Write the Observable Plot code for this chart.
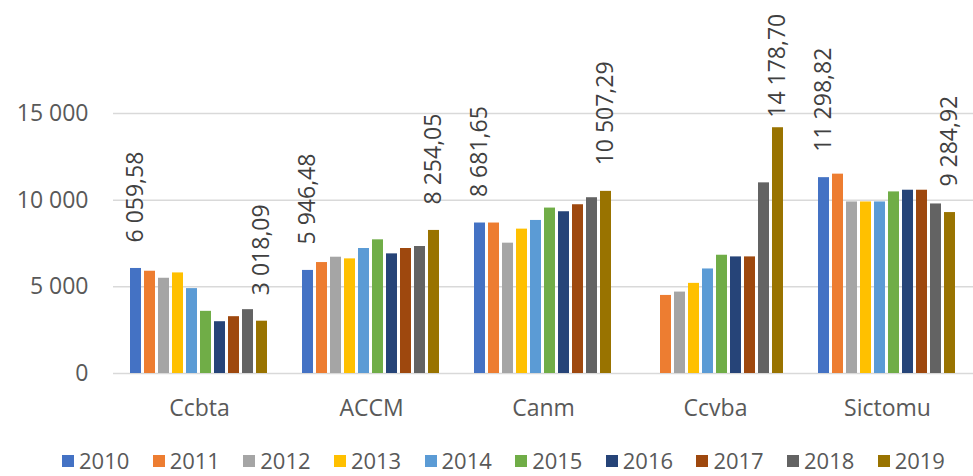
<!DOCTYPE html>
<html>
<head>
<meta charset="utf-8">
<script src="https://cdn.jsdelivr.net/npm/d3@7"></script>
<script src="https://cdn.jsdelivr.net/npm/@observablehq/plot@0.6"></script>
<style>
  html, body { margin: 0; padding: 0; background: #ffffff; overflow: hidden; }
  #chart { width: 973px; height: 445px; }
  #legend { display: flex; align-items: center; padding-left: 62px; margin-top: 5px; height: 20px;
            font-family: "Open Sans", sans-serif; font-size: 22px; line-height: 20px; color: #595959; }
  .item { display: flex; align-items: center; margin-right: 23.3px; height: 20px; }
  .sw { width: 12px; height: 12px; margin-right: 5px; margin-top: 2px; }
</style>
</head>
<body>
<div id="chart"></div>
<div id="legend"></div>
<script>
const categories = ["Ccbta", "ACCM", "Canm", "Ccvba", "Sictomu"];
const years = [2010, 2011, 2012, 2013, 2014, 2015, 2016, 2017, 2018, 2019];
const colors = ["#4472C4", "#ED7D31", "#A5A5A5", "#FFC000", "#5B9BD5", "#70AD47", "#264478", "#9E480E", "#636363", "#997300"];
const yTicks = [0, 5000, 10000, 15000];

const ccbta   = [6059.58, 5900, 5495, 5803, 4897, 3586, 2988, 3278, 3683, 3018.09];
const accm    = [5946.48, 6401, 6709, 6613, 7211, 7712, 6902, 7211, 7326, 8254.05];
const canm    = [8681.65, 8681, 7519, 8329, 8830, 9544, 9332, 9736, 10141, 10507.29];
const ccvba   = [null, 4504, 4697, 5200, 6031, 6823, 6727, 6727, 10999, 14178.70];
const sictomu = [11298.82, 11501, 9897, 9897, 9897, 10477, 10574, 10574, 9781, 9284.92];
const labeledYears = [2010, 2019];

const seriesByCat = [ccbta, accm, canm, ccvba, sictomu];
const rows = [];
categories.forEach((c, ci) => {
  years.forEach((y, yi) => {
    const v = seriesByCat[ci][yi];
    if (v != null) rows.push({cat: c, year: y, value: v});
  });
});
const labelRows = rows.filter(d => labeledYears.includes(d.year));
// labels that would overflow the top are nudged closer to their bar (as the original does)
const labelLimit = 13200;

const loc = d3.formatLocale({decimal: ",", thousands: "\u00a0", grouping: [3], currency: ["", ""]});
const fmtTick = loc.format(",.0f");
const fmtVal = loc.format(",.2f");

const labelStyle = {fx: "cat", x: "year", y: "value", text: d => fmtVal(d.value),
  rotate: -90, textAnchor: "start", lineAnchor: "middle", fontSize: 23, fill: "#404040"};

const chart = Plot.plot({
  width: 973,
  height: 445,
  marginLeft: 113,
  marginRight: 0,
  marginTop: 113,
  marginBottom: 72,
  style: {fontFamily: "'Open Sans', sans-serif", fontSize: "23px", color: "#595959", background: "#ffffff"},
  fx: {domain: categories, padding: 0, label: null, tickSize: 0, tickPadding: 26, axis: "bottom"},
  x: {domain: years, paddingInner: 0.18, paddingOuter: 0.865, axis: null},
  y: {domain: [0, 15000], ticks: yTicks, tickSize: 0, tickPadding: 25, tickFormat: fmtTick, label: null},
  color: {type: "ordinal", domain: years, range: colors},
  marks: [
    Plot.ruleY(yTicks, {stroke: "#d9d9d9", strokeWidth: 1.5}),
    Plot.barY(rows, {fx: "cat", x: "year", y: "value", fill: "year"}),
    Plot.text(labelRows.filter(d => d.value <= labelLimit), {...labelStyle, dy: -26}),
    Plot.text(labelRows.filter(d => d.value > labelLimit), {...labelStyle, dy: -10})
  ]
});
document.getElementById("chart").appendChild(chart);

const legend = document.getElementById("legend");
years.forEach((y, i) => {
  const item = document.createElement("div");
  item.className = "item";
  const sw = document.createElement("div");
  sw.className = "sw";
  sw.style.background = colors[i];
  const t = document.createElement("span");
  t.textContent = String(y);
  item.appendChild(sw);
  item.appendChild(t);
  legend.appendChild(item);
});
</script>
</body>
</html>
